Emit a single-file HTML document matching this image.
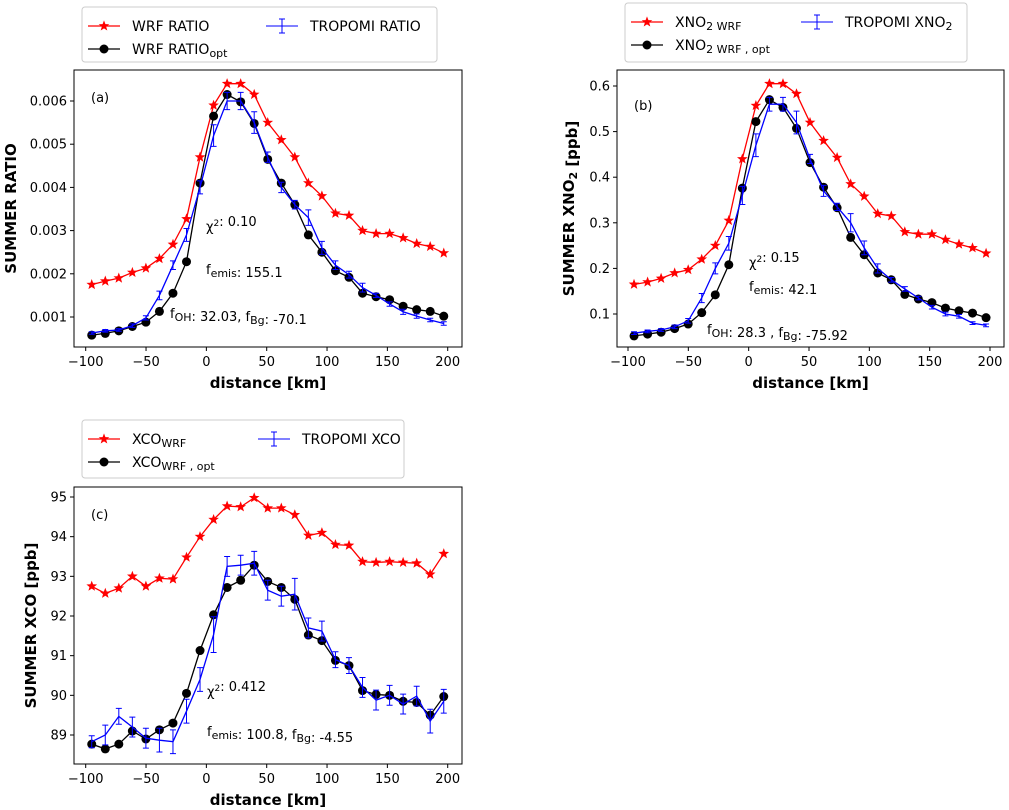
<!DOCTYPE html>
<html><head><meta charset="utf-8">
<style>
html,body{margin:0;padding:0;background:#fff;}
svg{display:block;font-family:"DejaVu Sans","Liberation Sans",sans-serif;}
</style></head>
<body>
<svg id="fig" width="1009" height="810" viewBox="0 0 1009 810" xmlns="http://www.w3.org/2000/svg"></svg>
<script>
const distances = [];
for (let i = 0; i < 27; i++) distances.push(-95 + i * 11.22);
const xTicks = [-100, -50, 0, 50, 100, 150, 200];

const aWrf = [0.00175,0.00183,0.0019,0.00203,0.00213,0.00235,0.00268,0.00327,0.0047,0.0059,0.0064,0.0064,0.00615,0.0055,0.0051,0.0047,0.0041,0.0038,0.0034,0.00335,0.003,0.00293,0.00293,0.00283,0.0027,0.00263,0.00248];
const aOpt = [0.00058,0.00062,0.00068,0.00078,0.00088,0.00113,0.00155,0.00228,0.0041,0.00565,0.00615,0.00598,0.00548,0.00465,0.0041,0.0036,0.0029,0.0025,0.00207,0.00192,0.00155,0.00147,0.0014,0.00125,0.00117,0.00113,0.00102];
const aTro = [0.00063,0.00068,0.0007,0.0008,0.00098,0.0015,0.0022,0.0029,0.004,0.0052,0.006,0.006,0.0055,0.0047,0.004,0.0036,0.0033,0.0026,0.0022,0.00198,0.00168,0.0015,0.0013,0.00112,0.00102,0.00093,0.00085];
const aErr = [0.00003,0.00003,0.00003,0.00004,0.00005,0.0001,0.0001,0.00015,0.00015,0.00025,0.0002,0.0002,0.00025,0.00012,0.00012,0.0001,0.00018,0.00015,0.0001,0.00008,0.0001,0.00005,0.00005,0.00006,0.00005,0.00004,0.00004];
const aTicks = [0.001,0.002,0.003,0.004,0.005,0.006];
const aTickLabels = ["0.001","0.002","0.003","0.004","0.005","0.006"];

const bWrf = [0.165,0.17,0.178,0.19,0.197,0.22,0.25,0.305,0.44,0.557,0.605,0.605,0.583,0.52,0.48,0.443,0.385,0.358,0.32,0.315,0.28,0.275,0.275,0.263,0.253,0.245,0.233];
const bOpt = [0.052,0.056,0.06,0.068,0.078,0.103,0.142,0.208,0.376,0.522,0.57,0.553,0.507,0.432,0.378,0.333,0.268,0.23,0.19,0.175,0.143,0.133,0.125,0.113,0.107,0.102,0.092];
const bTro = [0.058,0.062,0.065,0.072,0.085,0.135,0.2,0.255,0.36,0.47,0.56,0.56,0.52,0.44,0.37,0.335,0.3,0.245,0.2,0.175,0.155,0.135,0.115,0.1,0.095,0.08,0.075];
const bErr = [0.003,0.003,0.003,0.004,0.005,0.01,0.012,0.015,0.02,0.025,0.015,0.015,0.025,0.01,0.012,0.008,0.02,0.015,0.01,0.005,0.005,0.004,0.004,0.004,0.004,0.003,0.003];
const bTicks = [0.1,0.2,0.3,0.4,0.5,0.6];
const bTickLabels = ["0.1","0.2","0.3","0.4","0.5","0.6"];

const cWrf = [92.75,92.57,92.7,93.0,92.75,92.95,92.93,93.48,94.0,94.43,94.77,94.75,94.98,94.72,94.72,94.55,94.03,94.1,93.8,93.78,93.37,93.35,93.37,93.35,93.33,93.05,93.57];
const cOpt = [88.77,88.65,88.77,89.1,88.9,89.13,89.3,90.05,91.13,92.03,92.72,92.9,93.28,92.87,92.72,92.42,91.52,91.38,90.88,90.75,90.12,90.02,90.0,89.85,89.82,89.5,89.97];
const cTro = [88.83,89.0,89.47,89.2,88.92,88.87,88.83,89.6,90.4,91.53,93.25,93.28,93.33,92.65,92.5,92.55,91.7,91.62,90.9,90.75,90.2,89.88,90.0,89.78,89.98,89.35,89.85];
const cErr = [0.15,0.25,0.2,0.25,0.25,0.3,0.3,0.3,0.3,0.45,0.25,0.25,0.3,0.25,0.25,0.4,0.25,0.25,0.2,0.2,0.25,0.25,0.25,0.25,0.25,0.3,0.3];
const cTicks = [89,90,91,92,93,94,95];
const cTickLabels = ["89","90","91","92","93","94","95"];

const NS = "http://www.w3.org/2000/svg";
const svg = document.getElementById('fig');
function mk(tag, attrs, parent) {
  const e = document.createElementNS(NS, tag);
  for (const k in attrs) e.setAttribute(k, attrs[k]);
  (parent || svg).appendChild(e);
  return e;
}
function star(cx, cy, r) {
  let p = [];
  for (let i = 0; i < 10; i++) {
    const a = -Math.PI / 2 + i * Math.PI / 5;
    const rr = i % 2 ? r * 0.42 : r;
    p.push((cx + rr * Math.cos(a)).toFixed(1) + "," + (cy + rr * Math.sin(a)).toFixed(1));
  }
  return p.join(" ");
}

function panel(cfg) {
  const g = mk('g', {});
  
  
  const L = cfg.L, R = cfg.R, T = cfg.T, B = cfg.B;
  const x0px = cfg.x0;
  const xs = d => x0px + (d + 100) * 1.2067;
  const ys = v => cfg.yA + (v - cfg.vA) * (cfg.yB - cfg.yA) / (cfg.vB - cfg.vA);
  const fr = mk('rect', {x: L, y: T, width: R - L, height: B - T, fill: 'none', stroke: '#000', 'stroke-width': 1}, g);
  
  
  xTicks.forEach(t => {
    const x = xs(t);
    mk('line', {x1: x, y1: B, x2: x, y2: B + 4, stroke: '#000'}, g);
    const tx = mk('text', {x: x, y: B + 19, 'font-size': 13, 'text-anchor': 'middle'}, g);
    tx.textContent = t < 0 ? '\u2212' + (-t) : String(t);
    
    
  });
  cfg.ticks.forEach((t, i) => {
    const y = ys(t);
    mk('line', {x1: L - 4, y1: y, x2: L, y2: y, stroke: '#000'}, g);
    const tx = mk('text', {x: L - 7, y: y + 4.5, 'font-size': 13, 'text-anchor': 'end'}, g);
    tx.textContent = cfg.tickLabels[i];
    
    
  });
  const xt = mk('text', {x: (L + R) / 2, y: B + 41, 'font-size': 15, 'font-weight': 'bold', 'text-anchor': 'middle'}, g);
  xt.textContent = 'distance [km]';
  
  
  const yt = mk('text', {x: 0, y: 0, 'font-size': 15, 'font-weight': 'bold', 'text-anchor': 'middle', transform: `translate(${cfg.ytx},${(T + B) / 2}) rotate(-90)`}, g);
  yt.innerHTML = cfg.ytitle;
  
  
  const pts = arr => arr.map((v, i) => xs(distances[i]).toFixed(1) + ',' + ys(v).toFixed(1)).join(' ');
  const rl = mk('polyline', {points: pts(cfg.wrf), fill: 'none', stroke: '#f00', 'stroke-width': 1.3}, g);
  
  
  cfg.wrf.forEach((v, i) => {
    const s = mk('polygon', {points: star(xs(distances[i]), ys(v), 5.6), fill: '#f00'}, g);
    
    
  });
  const bl = mk('polyline', {points: pts(cfg.opt), fill: 'none', stroke: '#000', 'stroke-width': 1.3}, g);
  
  
  cfg.opt.forEach((v, i) => {
    const c = mk('circle', {cx: xs(distances[i]), cy: ys(v), r: 4.5, fill: '#000'}, g);
    
    
  });
  const ul = mk('polyline', {points: pts(cfg.tro), fill: 'none', stroke: '#00f', 'stroke-width': 1.3}, g);
  
  
  cfg.tro.forEach((v, i) => {
    const x = xs(distances[i]), y1 = ys(v - cfg.err[i]), y2 = ys(v + cfg.err[i]);
    const e = mk('path', {d: `M${x},${y1}V${y2}M${x - 3},${y1}H${x + 3}M${x - 3},${y2}H${x + 3}`, stroke: '#00f', 'stroke-width': 1, fill: 'none'}, g);
    
    
  });
  cfg.notes.forEach(n => {
    const t = mk('text', {x: n[0], y: n[1], 'font-size': 13}, g);
    t.innerHTML = n[2];
    
    
  });
  const lg = cfg.leg;
  const lgg = mk('g', {}, g);
  
  
  mk('rect', {x: lg.x, y: lg.y, width: lg.w, height: lg.h, rx: 3, fill: '#fff', stroke: '#ccc'}, lgg);
  const r1 = lg.y + 19, r2 = lg.y + 42;
  const lx = lg.x + 6;
  mk('line', {x1: lx, y1: r1, x2: lx + 32, y2: r1, stroke: '#f00', 'stroke-width': 1.3}, lgg);
  mk('polygon', {points: star(lx + 16, r1, 5.6), fill: '#f00'}, lgg);
  mk('line', {x1: lx, y1: r2, x2: lx + 32, y2: r2, stroke: '#000', 'stroke-width': 1.3}, lgg);
  mk('circle', {cx: lx + 16, cy: r2, r: 4.5, fill: '#000'}, lgg);
  const bx = lx + lg.col;
  mk('path', {d: `M${bx},${r1}H${bx + 32}M${bx + 16},${r1 - 7}V${r1 + 7}M${bx + 13},${r1 - 7}H${bx + 19}M${bx + 13},${r1 + 7}H${bx + 19}`, stroke: '#00f', fill: 'none'}, lgg);
  const e1 = mk('text', {x: lx + 44, y: r1 + 5, 'font-size': 14}, lgg); e1.innerHTML = lg.t1;
   
  const e2 = mk('text', {x: lx + 44, y: r2 + 5, 'font-size': 14}, lgg); e2.innerHTML = lg.t2;
   
  const e3 = mk('text', {x: bx + 44, y: r1 + 5, 'font-size': 14}, lgg); e3.innerHTML = lg.t3;
   
}

const sub = s => `<tspan font-size="11" dy="3">${s}</tspan><tspan dy="-3"></tspan>`;
const sup = s => `<tspan font-size="9" dy="-5">${s}</tspan><tspan dy="5"></tspan>`;

panel({name: 'panel-a', L: 74, R: 462, T: 70, B: 347, x0: 85.7, yA: 101, vA: 0.006, yB: 317, vB: 0.001,
  ticks: aTicks, tickLabels: aTickLabels, wrf: aWrf, opt: aOpt, tro: aTro, err: aErr, ytx: 16,
  ytitle: 'SUMMER RATIO',
  notes: [[91, 102, '(a)'], [206, 231, '\u03c7' + sup('2') + ': 0.10'], [206, 274, 'f' + sub('emis') + ': 155.1'], [170, 318, 'f' + sub('OH') + ': 32.03, f' + sub('Bg') + ': -70.1']],
  leg: {x: 82, y: 7, w: 355, h: 55, col: 178, t1: 'WRF RATIO', t2: 'WRF RATIO' + sub('opt'), t3: 'TROPOMI RATIO'}});

panel({name: 'panel-b', L: 617, R: 1004, T: 70, B: 347, x0: 628, yA: 86, vA: 0.6, yB: 314, vB: 0.1,
  ticks: bTicks, tickLabels: bTickLabels, wrf: bWrf, opt: bOpt, tro: bTro, err: bErr, ytx: 574,
  ytitle: 'SUMMER XNO' + sub('2') + ' [ppb]',
  notes: [[634, 110, '(b)'], [749, 267, '\u03c7' + sup('2') + ': 0.15'], [749, 291, 'f' + sub('emis') + ': 42.1'], [707, 334, 'f' + sub('OH') + ': 28.3 , f' + sub('Bg') + ': -75.92']],
  leg: {x: 625, y: 3, w: 342, h: 59, col: 170, t1: 'XNO' + sub('2 WRF'), t2: 'XNO' + sub('2 WRF , opt'), t3: 'TROPOMI XNO' + sub('2')}});

panel({name: 'panel-c', L: 74, R: 462, T: 487, B: 764, x0: 85.7, yA: 497, vA: 95, yB: 735, vB: 89,
  ticks: cTicks, tickLabels: cTickLabels, wrf: cWrf, opt: cOpt, tro: cTro, err: cErr, ytx: 36,
  ytitle: 'SUMMER XCO [ppb]',
  notes: [[91, 519, '(c)'], [207, 696, '\u03c7' + sup('2') + ': 0.412'], [207, 736, 'f' + sub('emis') + ': 100.8, f' + sub('Bg') + ': -4.55']],
  leg: {x: 82, y: 420, w: 322, h: 58, col: 170, t1: 'XCO' + sub('WRF'), t2: 'XCO' + sub('WRF , opt'), t3: 'TROPOMI XCO'}});
</script>
</body></html>
